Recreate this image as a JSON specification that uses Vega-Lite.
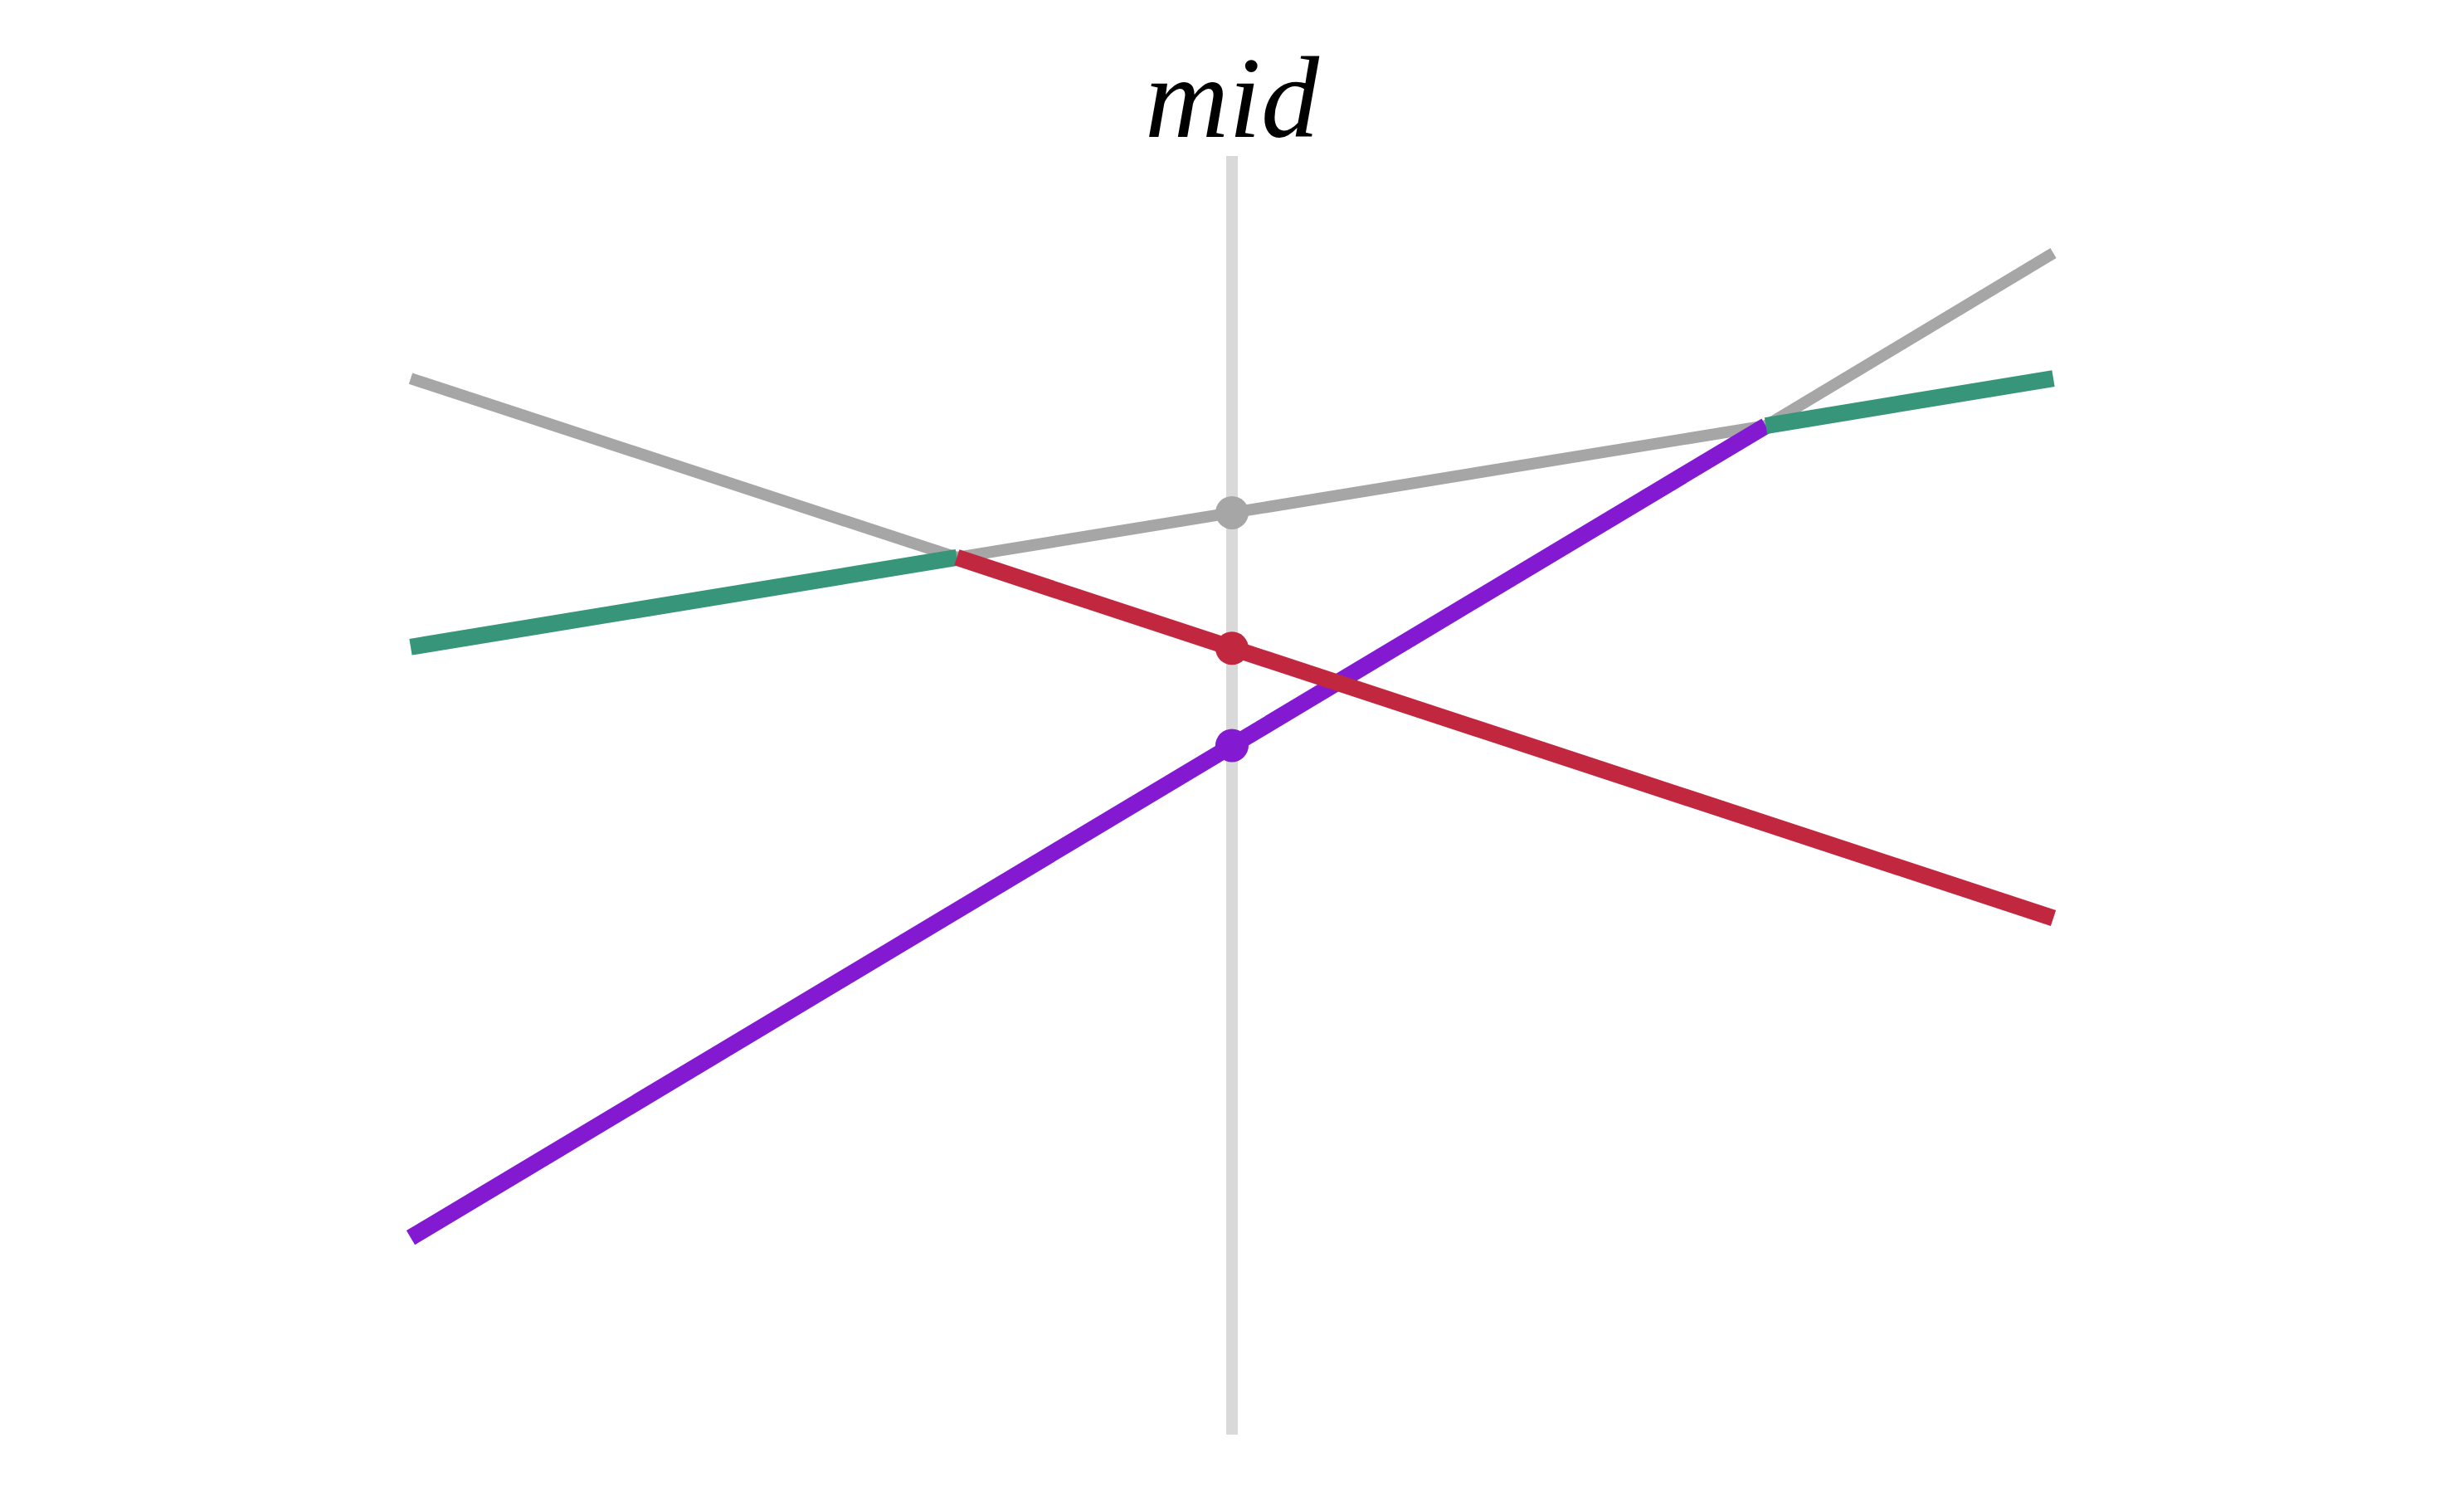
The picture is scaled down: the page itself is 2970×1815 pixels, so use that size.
{
  "$schema": "https://vega.github.io/schema/vega-lite/v6.json",
  "width": 1980,
  "height": 1541,
  "autosize": {"type": "none"},
  "padding": {"left": 495, "right": 495, "top": 188, "bottom": 86},
  "config": {"view": {"stroke": null}},
  "datasets": {
    "segments": [
      {"part": "C1", "kind": "C", "x": -1, "y": 1.54},
      {"part": "C1", "kind": "C", "x": 0.65, "y": 7.89},
      {"part": "C2", "kind": "top", "x": 0.65, "y": 7.89},
      {"part": "C2", "kind": "top", "x": 1, "y": 9.24},
      {"part": "B1", "kind": "B", "x": -1, "y": 6.16},
      {"part": "B1", "kind": "B", "x": -0.335, "y": 6.86},
      {"part": "B2", "kind": "top", "x": -0.335, "y": 6.86},
      {"part": "B2", "kind": "top", "x": 0.65, "y": 7.89},
      {"part": "B3", "kind": "B", "x": 0.65, "y": 7.89},
      {"part": "B3", "kind": "B", "x": 1, "y": 8.26},
      {"part": "A1", "kind": "top", "x": -1, "y": 8.26},
      {"part": "A1", "kind": "top", "x": -0.335, "y": 6.86},
      {"part": "A2", "kind": "A", "x": -0.335, "y": 6.86},
      {"part": "A2", "kind": "A", "x": 1, "y": 4.04}
    ],
    "dots": [
      {"kind": "top", "x": 0, "y": 7.21},
      {"kind": "A", "x": 0, "y": 6.15},
      {"kind": "C", "x": 0, "y": 5.39}
    ],
    "mid": [
      {"x": 0, "y0": 0, "y1": 10, "label": "mid"}
    ]
  },
  "layer": [
    {
      "data": {"name": "mid"},
      "mark": {"type": "rule", "color": "#d9d9d9", "strokeWidth": 14},
      "encoding": {
        "x": {"field": "x", "type": "quantitative", "scale": {"domain": [-1, 1], "nice": false, "zero": false}, "axis": null},
        "y": {"field": "y0", "type": "quantitative", "scale": {"domain": [0, 10], "nice": false}, "axis": null},
        "y2": {"field": "y1"}
      }
    },
    {
      "data": {"name": "mid"},
      "mark": {
        "type": "text",
        "font": "Liberation Serif",
        "fontStyle": "italic",
        "fontSize": 140,
        "baseline": "alphabetic",
        "align": "center",
        "dy": -23,
        "color": "#000000"
      },
      "encoding": {
        "x": {"field": "x", "type": "quantitative"},
        "y": {"field": "y1", "type": "quantitative"},
        "text": {"field": "label"}
      }
    },
    {
      "data": {"name": "segments"},
      "transform": [{"filter": "datum.kind === 'top'"}],
      "mark": {"type": "line", "strokeWidth": 14, "strokeCap": "butt"},
      "encoding": {
        "x": {"field": "x", "type": "quantitative"},
        "y": {"field": "y", "type": "quantitative"},
        "detail": {"field": "part"},
        "color": {
          "field": "kind",
          "type": "nominal",
          "scale": {"domain": ["top", "A", "B", "C"], "range": ["#a6a6a6", "#c1283f", "#379579", "#831ad2"]},
          "legend": null
        }
      }
    },
    {
      "data": {"name": "segments"},
      "transform": [{"filter": "datum.kind !== 'top'"}],
      "mark": {"type": "line", "strokeWidth": 20, "strokeCap": "butt"},
      "encoding": {
        "x": {"field": "x", "type": "quantitative"},
        "y": {"field": "y", "type": "quantitative"},
        "detail": {"field": "part"},
        "color": {"field": "kind", "type": "nominal", "legend": null}
      }
    },
    {
      "data": {"name": "dots"},
      "mark": {"type": "circle", "size": 1600, "opacity": 1},
      "encoding": {
        "x": {"field": "x", "type": "quantitative"},
        "y": {"field": "y", "type": "quantitative"},
        "color": {"field": "kind", "type": "nominal", "legend": null}
      }
    }
  ]
}
